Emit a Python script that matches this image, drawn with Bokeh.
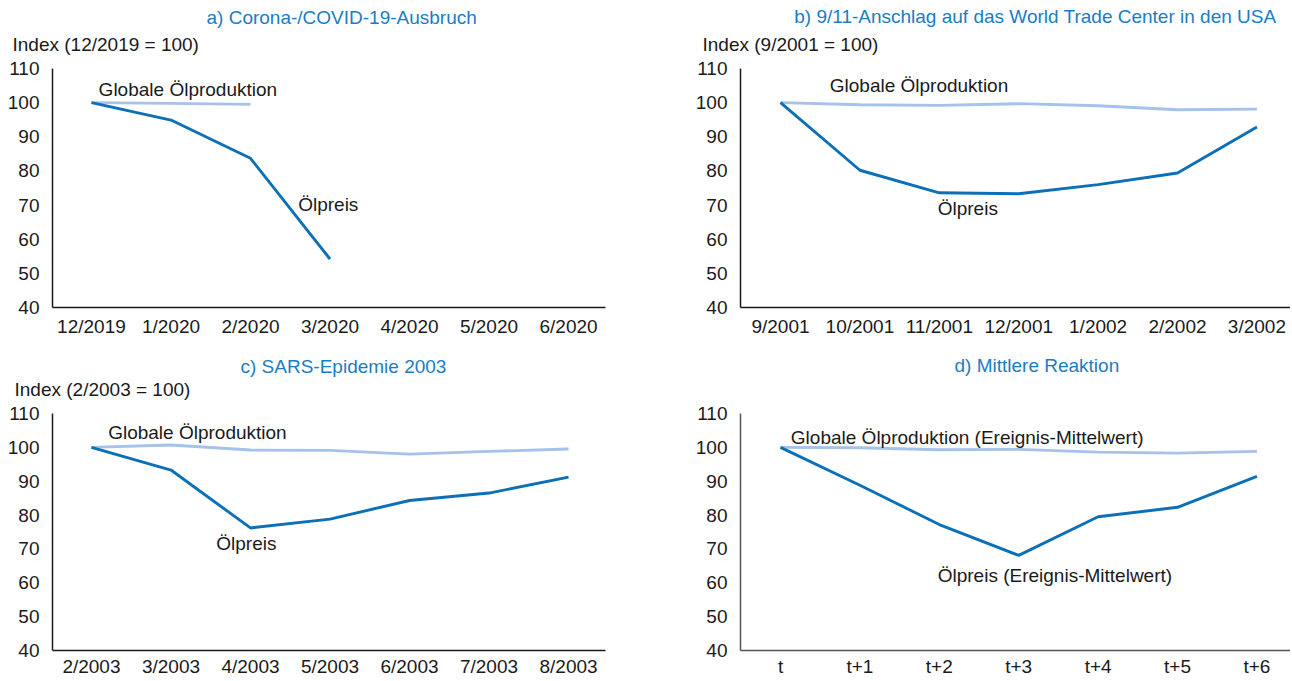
from bokeh.plotting import figure
from bokeh.models import Range1d, FixedTicker, Label, Title
from bokeh.layouts import gridplot
from bokeh.embed import file_html
from bokeh.resources import INLINE

# ---- data ----
cats_a = ["12/2019", "1/2020", "2/2020", "3/2020", "4/2020", "5/2020", "6/2020"]
prod_a = [100, 99.8, 99.5]
oil_a = [100, 94.9, 83.7, 54.2]

cats_b = ["9/2001", "10/2001", "11/2001", "12/2001", "1/2002", "2/2002", "3/2002"]
prod_b = [100, 99.4, 99.2, 99.7, 99.1, 97.9, 98.1]
oil_b = [100, 80.2, 73.6, 73.3, 76.0, 79.4, 92.9]

cats_c = ["2/2003", "3/2003", "4/2003", "5/2003", "6/2003", "7/2003", "8/2003"]
prod_c = [100, 100.7, 99.2, 99.1, 98.0, 98.8, 99.5]
oil_c = [100, 93.3, 76.2, 78.8, 84.3, 86.5, 91.2]

cats_d = ["t", "t+1", "t+2", "t+3", "t+4", "t+5", "t+6"]
prod_d = [100, 99.9, 99.3, 99.4, 98.6, 98.3, 98.8]
oil_d = [100, 88.8, 77.2, 68.1, 79.5, 82.3, 91.4]

y_ticks = [40, 50, 60, 70, 80, 90, 100, 110]

FONT = "Liberation Sans"
FS = "19px"
BLUE_T = "#1a7dc4"
OIL = "#0b70b7"
PROD = "#a4c2ea"
TXT = "#1a1a1a"


def panel(w, h, cats, prod, oil, title, t_align, t_offset, t_standoff,
          index_label, i_offset, i_standoff, spacer_standoff,
          x_start, x_end, borders, prod_lbl, oil_lbl, axis_color, x_standoff):
    left, right, top, bottom = borders
    p = figure(width=w, height=h, output_backend="svg", toolbar_location=None,
               x_range=Range1d(x_start, x_end), y_range=Range1d(40, 110),
               min_border_left=left, min_border_right=right,
               min_border_top=top, min_border_bottom=bottom)
    p.outline_line_color = None
    p.xgrid.visible = False
    p.ygrid.visible = False
    p.background_fill_color = "white"

    xs = list(range(len(cats)))
    p.line(xs[:len(prod)], prod, line_color=PROD, line_width=2.9)
    p.line(xs[:len(oil)], oil, line_color=OIL, line_width=2.9)

    for ax in (p.xaxis[0], p.yaxis[0]):
        ax.axis_line_color = axis_color
        ax.axis_line_width = 1.5
        ax.major_tick_line_color = None
        ax.minor_tick_line_color = None
        ax.major_tick_out = 0
        ax.major_tick_in = 0
        ax.major_label_text_font = FONT
        ax.major_label_text_font_size = FS
        ax.major_label_text_color = TXT
    p.xaxis[0].ticker = FixedTicker(ticks=xs)
    p.xaxis[0].major_label_overrides = {i: c for i, c in enumerate(cats)}
    p.xaxis[0].major_label_standoff = x_standoff
    p.yaxis[0].ticker = FixedTicker(ticks=y_ticks)
    p.yaxis[0].major_label_standoff = 13

    if spacer_standoff is not None:
        p.add_layout(Title(text=" ", standoff=spacer_standoff, text_font=FONT,
                           text_font_size=FS, text_font_style="normal"), "above")
    if index_label:
        p.add_layout(Title(text=index_label, align="left", offset=i_offset,
                           standoff=i_standoff, text_font=FONT, text_font_size=FS,
                           text_font_style="normal", text_color=TXT), "above")
    p.add_layout(Title(text=title, align=t_align, offset=t_offset, standoff=t_standoff,
                       text_font=FONT, text_font_size=FS, text_font_style="normal",
                       text_color=BLUE_T), "above")
    for (tx, ty, tt) in (prod_lbl, oil_lbl):
        p.add_layout(Label(x=tx, y=ty, text=tt, text_align="left", text_baseline="middle",
                           text_font=FONT, text_font_size=FS, text_color=TXT))
    return p


pa = panel(646, 340, cats_a, prod_a, oil_a, "a) Corona-/COVID-19-Ausbruch", "left", 154, -19,
           "Index (12/2019 = 100)", -40, 27, None,
           -0.49, 6.465, (52, 41, 68, 33),
           (0.09, 103.9, "Globale Ölproduktion"), (2.6, 70.2, "Ölpreis"), "#1a1a1a", 8)
pb = panel(644, 340, cats_b, prod_b, oil_b, "b) 9/11-Anschlag auf das World Trade Center in den USA",
           "right", 14, -19, "Index (9/2001 = 100)", -38, 28, None,
           -0.504, 6.423, (94, 0, 68, 33),
           (0.62, 105.0, "Globale Ölproduktion"), (1.98, 69.0, "Ölpreis"), "#1a1a1a", 8)
pc = panel(646, 339, cats_c, prod_c, oil_c, "c) SARS-Epidemie 2003", "left", 188, 18,
           "Index (2/2003 = 100)", -38, -18, -0.5,
           -0.49, 6.465, (52, 41, 73, 29),
           (0.21, 104.4, "Globale Ölproduktion"), (1.57, 71.6, "Ölpreis"), "#1a1a1a", 5)
pd_ = panel(644, 339, cats_d, prod_d, oil_d, "d) Mittlere Reaktion", "left", 214, -18,
            None, 0, 0, 23.5,
            -0.504, 6.423, (94, 0, 73, 29),
            (0.13, 102.9, "Globale Ölproduktion (Ereignis-Mittelwert)"),
            (1.98, 62.2, "Ölpreis (Ereignis-Mittelwert)"), "#555555", 5)

grid = gridplot([[pa, pb], [pc, pd_]], toolbar_location=None)

open("out.html", "w").write(file_html(grid, INLINE))
